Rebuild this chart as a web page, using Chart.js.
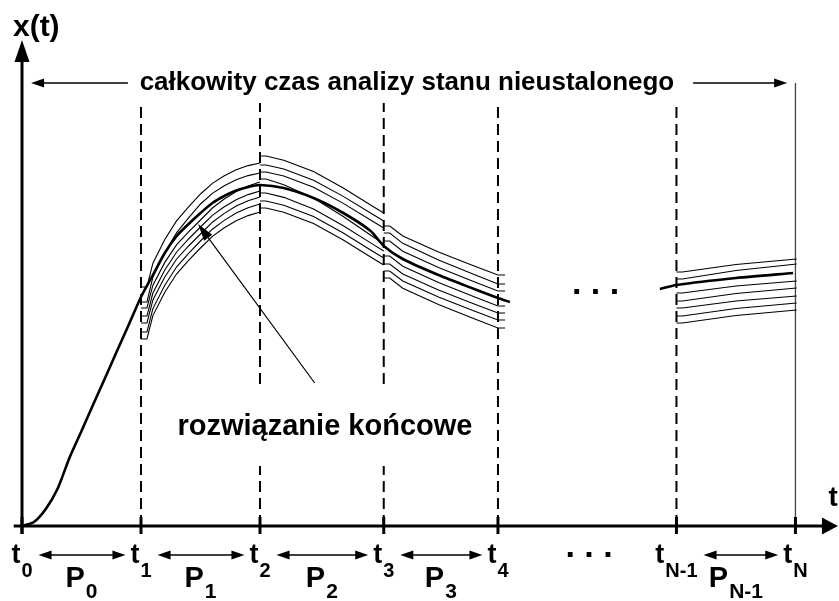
<!DOCTYPE html>
<html>
<head>
<meta charset="utf-8">
<script src="https://cdn.jsdelivr.net/npm/chart.js@4.4.1/dist/chart.umd.min.js"></script>
<style>
  html, body { margin: 0; padding: 0; background: #fff; }
  #wrap { width: 839px; height: 601px; position: relative; }
</style>
</head>
<body>
<div id="wrap"><canvas id="c"></canvas></div>
<script>
// Time grid: t0 .. t4, then (after the dots) tN-1 and tN
const TICK_T = [0, 10, 20, 30.4, 40, 55, 65];
const TICK_SUB = ['0', '1', '2', '3', '4', 'N-1', 'N'];
// Sub-intervals P_k, given by the index of their left boundary in TICK_T
const PERIOD_SUB = ['0', '1', '2', '3', 'N-1'];
const PERIOD_START = [0, 1, 2, 3, 5];

// Final solution x(t) (thick curve), t0 .. just past t4
const FINAL_T = [0, 1, 2, 3, 4, 5, 6, 7, 8, 9, 10, 11, 12, 13, 14, 15, 16, 17, 18, 19, 20, 22, 24.5, 27, 29.3, 30.4, 32, 35, 38, 40, 41];
const FINAL_X = [0, 0.8, 3.4, 7.5, 13.7, 19.0, 24.4, 29.7, 35.1, 40.4, 45.8, 50.2, 54.6, 58, 60.4, 62.6, 64.6, 66, 67.1, 67.8, 68.2, 67.6, 65.6, 62.6, 59.0, 56.0, 53.4, 50.2, 47.4, 45.6, 44.8];
// Final solution on the last interval P_N-1
const TAIL_T = [53.6, 55, 60, 64.8];
const TAIL_X = [47.4, 48.2, 49.6, 50.6];

// Reference trajectory of each interval, and the offsets of its seven fine
// solutions from it at a few instants (knots) of the interval
const SEG1_T = [10, 11, 12, 13, 14, 15, 16, 17, 18, 19, 20];
const SEG1_X = [45.8, 50.2, 54.6, 58, 60.4, 62.6, 64.6, 66, 67.1, 67.8, 68.2];
const SEG1_KNOTS = [10, 15, 20];
const SEG1_OFFSETS = [
  [2, -1, -2.2, -3.8, -5.2, -7, -8.4],
  [3.8, 1.8, -1.4, -2.8, -4.2, -5.6, -7],
  [4.4, 2.4, 0.6, -1.2, -2.4, -3.8, -5.4]
];

const SEG2_T = [20, 22, 24.5, 27, 29.5, 30.4];
const SEG2_X = [68.2, 67.6, 65.6, 62.6, 59.2, 58];
const SEG2_KNOTS = [20, 30.4];
const SEG2_OFFSETS = [
  [5.8, 4, 2.6, 1.2, -1.6, -3.2, -4.6],
  [4.6, 3, 1.6, -1.6, -3, -4.4, -5.8]
];

const SEG3_T = [30.4, 32, 35, 38, 40];
const SEG3_X = [55.4, 53.4, 50.2, 47.4, 45.6];
const SEG3_KNOTS = [30.4, 40];
const SEG3_OFFSETS = [
  [4.6, 3.2, 1.6, -1.4, -3, -4.4, -5.8],
  [4.6, 2.8, 1.4, -1.6, -3, -4.4, -6]
];

const SEG4_T = [55, 60, 65.1];
const SEG4_X = [48.2, 49.6, 50.6];
const SEG4_KNOTS = [55, 65.1];
const SEG4_OFFSETS = [
  [2.6, 1.2, -1.6, -3.2, -4.6, -6.2, -7.6],
  [2.8, 1.8, -1.6, -3, -4.6, -6, -7.4]
];

// Vertical guide lines
const GUIDE_TOP = 84.6;
const GUIDE_GAP = { 20: [12, 28.4], 30.4: [12, 28.4] };
const END_LINE_TOP = 88.6;

const TITLE = 'całkowity czas analizy stanu nieustalonego';
const FINAL_LABEL = 'rozwiązanie końcowe';

const FONT = '"Liberation Sans", Arial, Helvetica, sans-serif';

function zip(T, X) { return T.map((t, i) => ({ x: t, y: X[i] })); }

// offset of fine solution j at time t, linear between the knots
function offsetAt(knots, offsets, j, t) {
  for (let k = 0; k < knots.length - 1; k++) {
    if (t <= knots[k + 1] || k === knots.length - 2) {
      const f = (t - knots[k]) / (knots[k + 1] - knots[k]);
      return offsets[k][j] + (offsets[k + 1][j] - offsets[k][j]) * Math.max(0, Math.min(1, f));
    }
  }
  return offsets[0][j];
}

// A bundle of fine solutions: each starts with a short flat stub at the interval start
function bundle(T, X, knots, offsets, tailStub) {
  const a = T[0], b = T[T.length - 1];
  return offsets[0].map((s, j) => {
    const pts = [{ x: a, y: X[0] + s }, { x: a + 0.5, y: X[0] + s }];
    for (let i = 1; i < T.length; i++) {
      pts.push({ x: T[i], y: X[i] + offsetAt(knots, offsets, j, T[i]) });
    }
    if (tailStub) pts.push({ x: b + tailStub, y: pts[pts.length - 1].y });
    return pts;
  });
}

const datasets = [];
const thin = { borderColor: '#000', borderWidth: 1.1, pointRadius: 0, showLine: true, tension: 0, fill: false };

[
  bundle(SEG1_T, SEG1_X, SEG1_KNOTS, SEG1_OFFSETS, 0),
  bundle(SEG2_T, SEG2_X, SEG2_KNOTS, SEG2_OFFSETS, 0),
  bundle(SEG3_T, SEG3_X, SEG3_KNOTS, SEG3_OFFSETS, 0.6),
  bundle(SEG4_T, SEG4_X, SEG4_KNOTS, SEG4_OFFSETS, 0)
].forEach(group => group.forEach(pts => datasets.push(Object.assign({ data: pts }, thin))));

// Dashed interval boundaries
TICK_T.slice(1, 6).forEach(t => {
  const gap = GUIDE_GAP[t];
  const pts = gap
    ? [{ x: t, y: 0 }, { x: t, y: gap[0] }, { x: t, y: null }, { x: t, y: gap[1] }, { x: t, y: GUIDE_TOP }]
    : [{ x: t, y: 0 }, { x: t, y: GUIDE_TOP }];
  datasets.push({ data: pts, borderColor: '#000', borderWidth: 2, borderDash: [11, 6], pointRadius: 0, showLine: true, spanGaps: false, tension: 0 });
});
// End of the analysed time span
datasets.push({ data: [{ x: TICK_T[6], y: 0 }, { x: TICK_T[6], y: END_LINE_TOP }], borderColor: '#444', borderWidth: 1.3, pointRadius: 0, showLine: true, tension: 0 });

// Final solution on top
const thick = { borderColor: '#000', borderWidth: 2.6, pointRadius: 0, showLine: true, tension: 0.25, fill: false };
datasets.push(Object.assign({ data: zip(FINAL_T, FINAL_X) }, thick));
datasets.push(Object.assign({ data: zip(TAIL_T, TAIL_X) }, thick));

function head(ctx, x1, y1, x2, y2, len, half) {
  const a = Math.atan2(y2 - y1, x2 - x1);
  const c = Math.cos(a), s = Math.sin(a);
  ctx.beginPath();
  ctx.moveTo(x2, y2);
  ctx.lineTo(x2 - len * c - half * s, y2 - len * s + half * c);
  ctx.lineTo(x2 - len * c + half * s, y2 - len * s - half * c);
  ctx.closePath();
  ctx.fill();
}
function arrow(ctx, x1, y1, x2, y2, lw, len, half) {
  const a = Math.atan2(y2 - y1, x2 - x1);
  ctx.lineWidth = lw;
  ctx.beginPath();
  ctx.moveTo(x1, y1);
  ctx.lineTo(x2 - len * 0.8 * Math.cos(a), y2 - len * 0.8 * Math.sin(a));
  ctx.stroke();
  head(ctx, x1, y1, x2, y2, len, half);
}
function subWidth(ctx, main, sub, mf, sf) {
  ctx.font = mf; const w1 = ctx.measureText(main).width;
  ctx.font = sf; const w2 = ctx.measureText(sub).width;
  return [w1, w2];
}
function subLabel(ctx, main, sub, cx, by, sby, mf, sf, gap) {
  const [w1, w2] = subWidth(ctx, main, sub, mf, sf);
  const left = cx - (w1 + gap + w2) / 2;
  ctx.textAlign = 'left';
  ctx.font = mf; ctx.fillText(main, left, by);
  ctx.font = sf; ctx.fillText(sub, left + w1 + gap, sby);
  return w1 + gap + w2;
}

const diagram = {
  id: 'diagram',
  afterDatasetsDraw(chart) {
    const { ctx, scales } = chart;
    const px = v => scales.x.getPixelForValue(v);
    const py = v => scales.y.getPixelForValue(v);
    ctx.save();
    ctx.strokeStyle = '#000';
    ctx.fillStyle = '#000';
    ctx.textBaseline = 'alphabetic';

    // axes
    ctx.lineWidth = 3;
    ctx.beginPath(); ctx.moveTo(px(0), py(-1.6)); ctx.lineTo(px(0), py(93.5)); ctx.stroke();
    head(ctx, px(0), py(0), px(0), py(97.2), 22, 7.5);
    ctx.beginPath(); ctx.moveTo(px(-0.7), py(0)); ctx.lineTo(px(67.6), py(0)); ctx.stroke();
    head(ctx, px(0), py(0), px(68.57), py(0), 16, 8.5);
    TICK_T.forEach(t => {
      ctx.lineWidth = 3;
      ctx.beginPath(); ctx.moveTo(px(t), py(1.8)); ctx.lineTo(px(t), py(-1.6)); ctx.stroke();
    });

    // axis names
    ctx.font = 'bold 30px ' + FONT; ctx.textAlign = 'left';
    ctx.fillText('x(t)', px(-0.76), py(98));
    ctx.font = 'bold 28px ' + FONT; ctx.textAlign = 'right';
    ctx.fillText('t', px(68.57), py(4));

    // total analysis span
    ctx.font = 'bold 26px ' + FONT; ctx.textAlign = 'center';
    ctx.fillText(TITLE, px(32.35), py(87.2));
    arrow(ctx, px(8.9), py(88.6), px(0.76), py(88.6), 1.3, 13, 4.5);
    arrow(ctx, px(56.4), py(88.6), px(64.3), py(88.6), 1.3, 13, 4.5);

    // final solution label and pointer
    ctx.font = 'bold 29px ' + FONT; ctx.textAlign = 'center';
    ctx.fillText(FINAL_LABEL, px(25.46), py(18.2));
    arrow(ctx, px(24.6), py(28.6), px(14.8), py(60.4), 1.2, 17, 5);

    // dots
    ctx.font = 'bold 34px ' + FONT; ctx.textAlign = 'center';
    ctx.fillText('. . .', px(48.2), py(46.4));
    ctx.fillText('. . .', px(47.65), py(-6.2));

    // t_k labels
    const mf = 'bold 27px ' + FONT, sf = 'bold 20px ' + FONT;
    const widths = TICK_T.map((t, k) => {
      const [w1, w2] = subWidth(ctx, 't', TICK_SUB[k], mf, sf);
      return w1 + 1 + w2;
    });
    TICK_T.forEach((t, k) => subLabel(ctx, 't', TICK_SUB[k], px(t), py(-7.4), py(-10.2), mf, sf, 1));

    // P_k labels with double arrows
    const pmf = 'bold 29px ' + FONT, psf = 'bold 21px ' + FONT;
    PERIOD_START.forEach((k, n) => {
      const a = TICK_T[k], b = TICK_T[k + 1];
      subLabel(ctx, 'P', PERIOD_SUB[n], (px(a) + px(b)) / 2, py(-12.2), py(-14.4), pmf, psf, 1);
      const x1 = px(a) + widths[k] / 2 + 6;
      const x2 = px(b) - widths[k + 1] / 2 - 5;
      const y = py(-5.8);
      ctx.lineWidth = 1.3;
      ctx.beginPath(); ctx.moveTo(x1 + 8, y); ctx.lineTo(x2 - 8, y); ctx.stroke();
      head(ctx, x2, y, x1, y, 13, 4.5);
      head(ctx, x1, y, x2, y, 13, 4.5);
    });

    ctx.restore();
  }
};

new Chart(document.getElementById('c'), {
  type: 'scatter',
  data: { datasets },
  options: {
    responsive: true,
    maintainAspectRatio: false,
    animation: false,
    events: [],
    layout: { padding: 0, autoPadding: false },
    plugins: { legend: { display: false }, tooltip: { enabled: false } },
    scales: {
      x: { type: 'linear', min: -1.849, max: 68.66, display: false },
      y: { type: 'linear', min: -15, max: 105.2, display: false }
    }
  },
  plugins: [diagram]
});
</script>
</body>
</html>
